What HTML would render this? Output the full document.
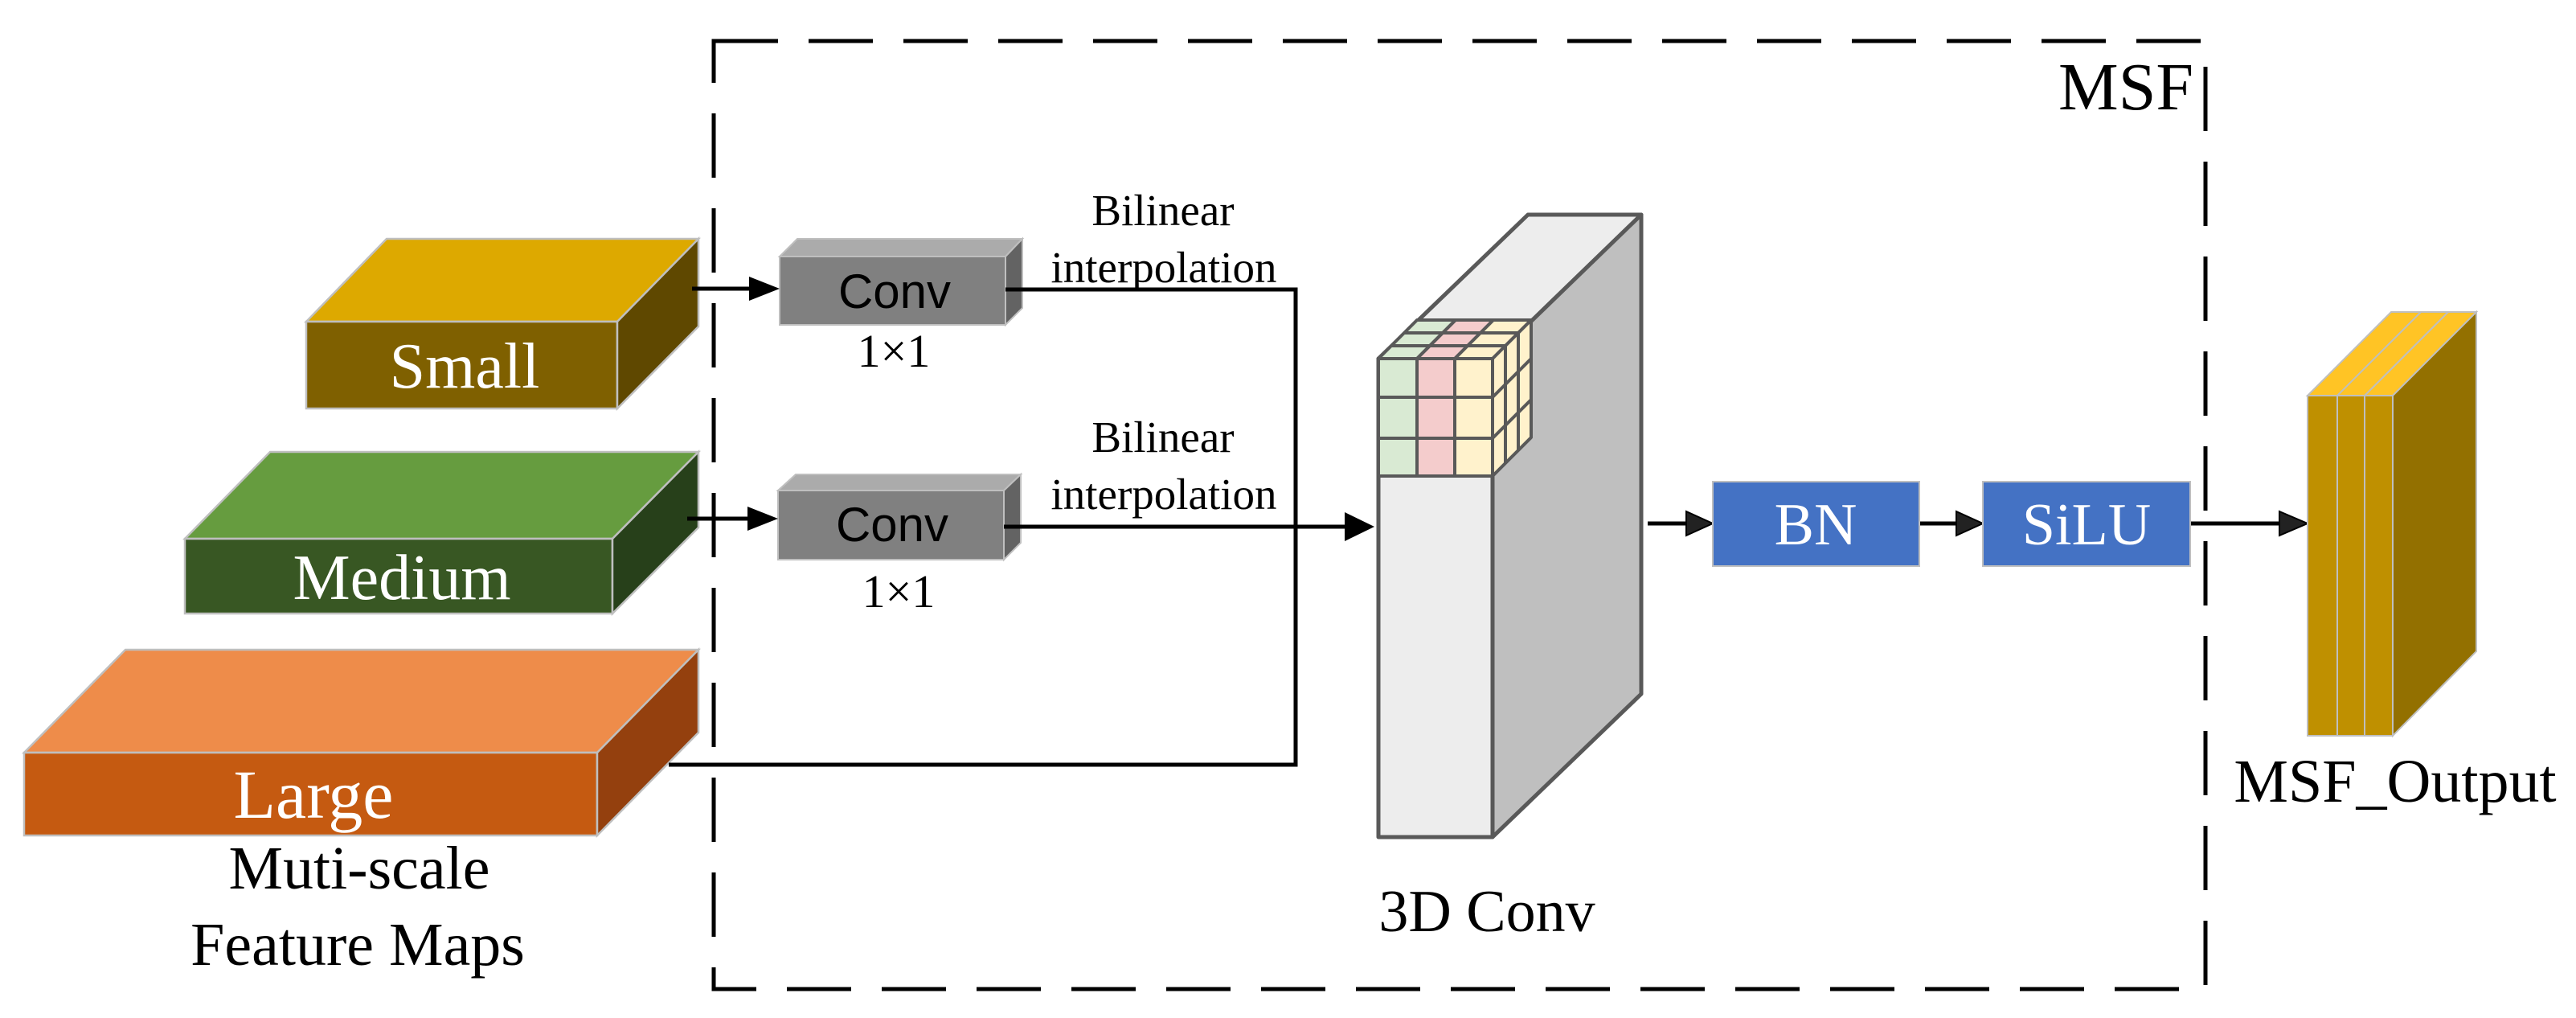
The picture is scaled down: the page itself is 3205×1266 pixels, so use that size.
<!DOCTYPE html>
<html><head><meta charset="utf-8"><style>
html,body{margin:0;padding:0;background:#fff;}
svg{display:block;}
text{font-family:"Liberation Serif",serif;}
</style></head><body>
<svg width="3205" height="1266" viewBox="0 0 3205 1266" xmlns="http://www.w3.org/2000/svg">
<!-- dashed MSF box -->
<rect x="888" y="51" width="1856" height="1179" fill="none" stroke="#000" stroke-width="5" stroke-dasharray="80 38"/>
<text x="2561" y="136" font-size="84">MSF</text>

<!-- Small -->
<g stroke="#BFBFBF" stroke-width="2.5">
<polygon points="381,400 481,297 869,297 768,400" fill="#DDA900"/>
<polygon points="381,400 768,400 768,508 381,508" fill="#7F6000"/>
<polygon points="768,400 869,297 869,406 768,508" fill="#5F4800"/>
<!-- Medium -->
<polygon points="230,670 336,562 869,562 762,670" fill="#669C3F"/>
<polygon points="230,670 762,670 762,763 230,763" fill="#385723"/>
<polygon points="762,670 869,562 869,656 762,763" fill="#27401A"/>
<!-- Large -->
<polygon points="30,936 156,808 869,808 743,936" fill="#EE8C4A"/>
<polygon points="30,936 743,936 743,1039 30,1039" fill="#C55A11"/>
<polygon points="743,936 869,808 869,911 743,1039" fill="#94400E"/>
</g>
<text x="578" y="482" font-size="80" fill="#fff" text-anchor="middle">Small</text>
<text x="500" y="745" font-size="80" fill="#fff" text-anchor="middle">Medium</text>
<text x="390" y="1017" font-size="86" fill="#fff" text-anchor="middle">Large</text>
<text x="447" y="1105" font-size="76" text-anchor="middle">Muti-scale</text>
<text x="445" y="1200" font-size="76" text-anchor="middle">Feature Maps</text>

<!-- Conv boxes -->
<g stroke="#BFBFBF" stroke-width="2">
<polygon points="970,319 992,297 1272,297 1251,319" fill="#ABABAB"/>
<polygon points="970,319 1251,319 1251,404 970,404" fill="#808080"/>
<polygon points="1251,319 1272,297 1272,383 1251,404" fill="#636363"/>
<polygon points="968,610 990,590 1270,590 1249,610" fill="#ABABAB"/>
<polygon points="968,610 1249,610 1249,696 968,696" fill="#808080"/>
<polygon points="1249,610 1270,590 1270,675 1249,696" fill="#636363"/>
</g>
<text x="1113" y="383" font-size="60" text-anchor="middle" style="font-family:'Liberation Sans',sans-serif">Conv</text>
<text x="1110" y="673" font-size="60" text-anchor="middle" style="font-family:'Liberation Sans',sans-serif">Conv</text>
<text x="1112" y="456" font-size="58" text-anchor="middle">1×1</text>
<text x="1118" y="755" font-size="58" text-anchor="middle">1×1</text>

<!-- Bilinear labels -->
<text x="1447" y="280" font-size="55" text-anchor="middle">Bilinear</text>
<text x="1448" y="351" font-size="55" text-anchor="middle">interpolation</text>
<text x="1447" y="562" font-size="55" text-anchor="middle">Bilinear</text>
<text x="1448" y="633" font-size="55" text-anchor="middle">interpolation</text>

<!-- connectors -->
<g stroke="#000" stroke-width="5" fill="none">
<line x1="861" y1="359" x2="935" y2="359"/>
<line x1="855" y1="645" x2="933" y2="645"/>
<polyline points="1251,360 1612,360 1612,951 832,951"/>
<line x1="1249" y1="655" x2="1675" y2="655"/>
<line x1="2050" y1="651" x2="2100" y2="651"/>
<line x1="2388" y1="651" x2="2435" y2="651"/>
<line x1="2725" y1="651" x2="2840" y2="651"/>
</g>
<g fill="#000">
<polygon points="932,344 970,359 932,374"/>
<polygon points="930,630 968,645 930,660"/>
<polygon points="1673,637 1710,655 1673,673"/>
</g>
<g fill="#222" stroke="#000" stroke-width="2">
<polygon points="2098,636 2131,651 2098,666"/>
<polygon points="2434,636 2467,651 2434,666"/>
<polygon points="2836,636 2871,651 2836,666"/>
</g>

<!-- 3D conv -->
<g stroke="#595959" stroke-width="5" stroke-linejoin="round">
<polygon points="1715,446 1901,267 2042,267 1857,446" fill="#EDEDED"/>
<polygon points="1857,446 2042,267 2042,863 1857,1041" fill="#BFBFBF"/>
<rect x="1715" y="446" width="142" height="595" fill="#EDEDED"/>
</g>
<!-- cube -->
<g stroke="#595959" stroke-width="4" stroke-linejoin="round">
<rect x="1715" y="446" width="48" height="146" fill="#D9EAD3"/>
<rect x="1763" y="446" width="47" height="146" fill="#F4CCCC"/>
<rect x="1810" y="446" width="47" height="146" fill="#FFF2CC"/>
<line x1="1715" y1="494" x2="1857" y2="494"/>
<line x1="1715" y1="545" x2="1857" y2="545"/>
<polygon points="1715,446 1763,446 1811,398 1763,398" fill="#D9EAD3"/>
<polygon points="1763,446 1810,446 1858,398 1811,398" fill="#F4CCCC"/>
<polygon points="1810,446 1857,446 1905,398 1858,398" fill="#FFF2CC"/>
<line x1="1731" y1="430" x2="1873" y2="430"/>
<line x1="1747" y1="414" x2="1889" y2="414"/>
<polygon points="1857,446 1905,398 1905,544 1857,592" fill="#FFF2CC"/>
<line x1="1873" y1="430" x2="1873" y2="576"/>
<line x1="1889" y1="414" x2="1889" y2="560"/>
<line x1="1857" y1="494" x2="1905" y2="446"/>
<line x1="1857" y1="545" x2="1905" y2="497"/>
</g>
<text x="1850" y="1158" font-size="74" text-anchor="middle">3D Conv</text>

<!-- BN / SiLU -->
<rect x="2131" y="599" width="257" height="105" fill="#4472C4" stroke="#BFBFBF" stroke-width="2"/>
<rect x="2467" y="599" width="258" height="105" fill="#4472C4" stroke="#BFBFBF" stroke-width="2"/>
<text x="2259" y="677" font-size="74" fill="#fff" text-anchor="middle">BN</text>
<text x="2596" y="677" font-size="74" fill="#fff" text-anchor="middle">SiLU</text>

<!-- output -->
<g stroke="#BFBFBF" stroke-width="2">
<polygon points="2871,492 2975,388 3081,388 2977,492" fill="#FFC425"/>
<line x1="2908" y1="492" x2="3012" y2="388"/>
<line x1="2942" y1="492" x2="3046" y2="388"/>
<polygon points="2977,492 3081,388 3081,810 2977,915" fill="#937000"/>
<rect x="2871" y="492" width="37" height="423" fill="#BF9000"/>
<rect x="2908" y="492" width="34" height="423" fill="#BF9000"/>
<rect x="2942" y="492" width="35" height="423" fill="#BF9000"/>
</g>
<text x="2980" y="997" font-size="76" text-anchor="middle">MSF_Output</text>
</svg>
</body></html>
